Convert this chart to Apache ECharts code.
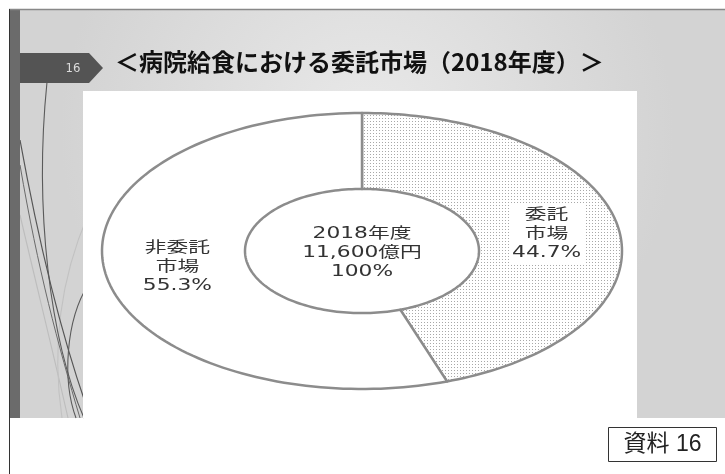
<!DOCTYPE html>
<html>
<head>
<meta charset="utf-8">
<script src="https://cdn.jsdelivr.net/npm/echarts@6/dist/echarts.min.js"></script>
<style>
  html, body { margin: 0; padding: 0; background: #fff; }
  #chart { width: 725px; height: 474px; }
</style>
</head>
<body>
<div id="chart"></div>
<script>
// Market split of contracted hospital meal service, FY2018
const TITLE = '＜病院給食における委託市場（2018年度）＞';
const PAGE_NO = '16';
const SOURCE_TAG = '資料 16';
const CATEGORIES = ['委託\n市場', '非委託\n市場'];
const SHARES = [44.7, 55.3];          // percent
const FISCAL_YEAR = 2018;
const TOTAL_OKU_YEN = 11600;          // 億円

const INNER_RATIO = 0.45;   // hole size relative to the outer ellipse
const LABEL_RADIUS = 0.72;  // where slice labels sit along the mid angle
const LABEL_FONT = '15px "DejaVu Sans", "Noto Sans CJK JP"';

// Fine dot screen used for the contracted slice
const dots = document.createElement('canvas');
dots.width = 3; dots.height = 3;
(function () {
  const c = dots.getContext('2d');
  c.fillStyle = '#ffffff'; c.fillRect(0, 0, 3, 3);
  c.fillStyle = '#a8a8a8'; c.fillRect(1, 1, 1, 1);
})();

// Each slice: [start percent, share percent, index]
let acc = 0;
const sliceData = SHARES.map((v, i) => { const s = acc; acc += v; return [s, v, i]; });
const totalPct = SHARES.reduce((a, b) => a + b, 0);

function renderSlice(params, api) {
  const start = api.value(0), share = api.value(1), idx = api.value(2);
  const a0 = start / totalPct * Math.PI * 2;
  const a1 = (start + share) / totalPct * Math.PI * 2;
  const at = (r, a) => api.coord([r * Math.sin(a), r * Math.cos(a)]);
  const steps = 120;
  const pts = [];
  for (let k = 0; k <= steps; k++) pts.push(at(1, a0 + (a1 - a0) * k / steps));
  for (let k = steps; k >= 0; k--) pts.push(at(INNER_RATIO, a0 + (a1 - a0) * k / steps));
  const mid = (a0 + a1) / 2;
  const lp = at(LABEL_RADIUS, mid);
  return {
    type: 'group',
    children: [
      {
        type: 'polygon',
        shape: { points: pts },
        style: {
          fill: idx === 0 ? { image: dots, repeat: 'repeat' } : '#ffffff',
          stroke: '#8c8c8c',
          lineWidth: 2.5,
          lineJoin: 'round'
        }
      },
      {
        type: 'text',
        x: lp[0], y: lp[1],
        scaleX: 1.45,
        z2: 10,
        style: {
          text: CATEGORIES[idx] + '\n' + SHARES[idx].toFixed(1) + '%',
          font: LABEL_FONT,
          fill: '#333',
          align: 'center',
          verticalAlign: 'middle',
          lineHeight: 19,
          backgroundColor: '#ffffff',
          padding: [1, 2]
        }
      }
    ]
  };
}

function renderCenter(params, api) {
  const p = api.coord([api.value(0), api.value(1)]);
  return {
    type: 'text',
    x: p[0], y: p[1] + 2,
    scaleX: 1.45,
    style: {
      text: FISCAL_YEAR + '年度\n' + TOTAL_OKU_YEN.toLocaleString('en-US') + '億円\n' + totalPct.toFixed(0) + '%',
      font: LABEL_FONT,
      fill: '#333',
      align: 'center',
      verticalAlign: 'middle',
      lineHeight: 19
    }
  };
}

const chart = echarts.init(document.getElementById('chart'), null, { renderer: 'canvas' });

const slideBg = {
  type: 'radial', x: 0.5, y: 0.3, r: 0.75,
  colorStops: [{ offset: 0, color: '#e9e9e9' }, { offset: 1, color: '#d3d3d3' }]
};

chart.setOption({
  animation: false,
  backgroundColor: '#ffffff',
  title: {
    text: TITLE,
    left: 115, top: 50, padding: 0,
    textStyle: { fontSize: 24, fontWeight: 'bold', color: '#111', fontFamily: '"Noto Sans CJK JP"' }
  },
  grid: { left: 102, right: 103, top: 113, bottom: 85 },
  xAxis: { type: 'value', min: -1, max: 1, show: false },
  yAxis: { type: 'value', min: -1, max: 1, show: false },
  graphic: [
    // slide background
    { type: 'rect', z: 0, shape: { x: 9, y: 9, width: 716, height: 409 }, style: { fill: slideBg } },
    // swooping decorative strokes on the left margin
    { type: 'bezierCurve', z: 1, shape: { x1: 20, y1: 215, cpx1: 40, cpy1: 300, cpx2: 55, cpy2: 360, x2: 68, y2: 418 }, style: { stroke: '#bdbdbd', lineWidth: 1.1, fill: null } },
    { type: 'bezierCurve', z: 1, shape: { x1: 88, y1: 215, cpx1: 60, cpy1: 280, cpx2: 52, cpy2: 350, x2: 62, y2: 418 }, style: { stroke: '#c2c2c2', lineWidth: 1.1, fill: null } },
    { type: 'bezierCurve', z: 1, shape: { x1: 47, y1: 82, cpx1: 34, cpy1: 210, cpx2: 50, cpy2: 340, x2: 84, y2: 418 }, style: { stroke: '#5a5a5a', lineWidth: 1.1, fill: null } },
    { type: 'bezierCurve', z: 1, shape: { x1: 20, y1: 140, cpx1: 40, cpy1: 250, cpx2: 60, cpy2: 330, x2: 86, y2: 405 }, style: { stroke: '#555', lineWidth: 1.2, fill: null } },
    { type: 'bezierCurve', z: 1, shape: { x1: 20, y1: 165, cpx1: 38, cpy1: 270, cpx2: 58, cpy2: 345, x2: 80, y2: 418 }, style: { stroke: '#6a6a6a', lineWidth: 1, fill: null } },
    { type: 'bezierCurve', z: 1, shape: { x1: 88, y1: 285, cpx1: 66, cpy1: 320, cpx2: 62, cpy2: 380, x2: 76, y2: 418 }, style: { stroke: '#5a5a5a', lineWidth: 1.1, fill: null } },
    // page frame lines
    { type: 'rect', z: 2, shape: { x: 9, y: 9, width: 11, height: 409 }, style: { fill: '#6b6b6b' } },
    { type: 'line', z: 2, shape: { x1: 9, y1: 9.5, x2: 725, y2: 9.5 }, style: { stroke: '#888', lineWidth: 1.5 } },
    { type: 'line', z: 2, shape: { x1: 9.5, y1: 9, x2: 9.5, y2: 474 }, style: { stroke: '#333', lineWidth: 1 } },
    // page number tab
    { type: 'polygon', z: 2, shape: { points: [[20, 53], [89, 53], [103, 68], [89, 83], [20, 83]] }, style: { fill: '#545454' } },
    { type: 'text', z: 3, x: 73, y: 69, style: { text: PAGE_NO, font: '13px "DejaVu Sans Condensed", "DejaVu Sans"', fill: '#dcdcdc', align: 'center', verticalAlign: 'middle' } },
    // chart plate
    { type: 'rect', z: 1, shape: { x: 83, y: 91, width: 554, height: 327 }, style: { fill: '#ffffff' } },
    // source tag box
    { type: 'rect', z: 2, shape: { x: 608.5, y: 427.5, width: 108, height: 34 }, style: { fill: '#ffffff', stroke: '#333', lineWidth: 1 } },
    { type: 'text', z: 3, x: 662.5, y: 445, style: { text: SOURCE_TAG, font: '23px "Liberation Sans", "Noto Sans CJK JP"', fill: '#222', align: 'center', verticalAlign: 'middle' } }
  ],
  series: [
    {
      type: 'custom',
      coordinateSystem: 'cartesian2d',
      z: 5,
      renderItem: renderSlice,
      data: sliceData
    },
    {
      type: 'custom',
      coordinateSystem: 'cartesian2d',
      z: 6,
      renderItem: renderCenter,
      data: [[0, 0]]
    }
  ]
});
</script>
</body>
</html>
